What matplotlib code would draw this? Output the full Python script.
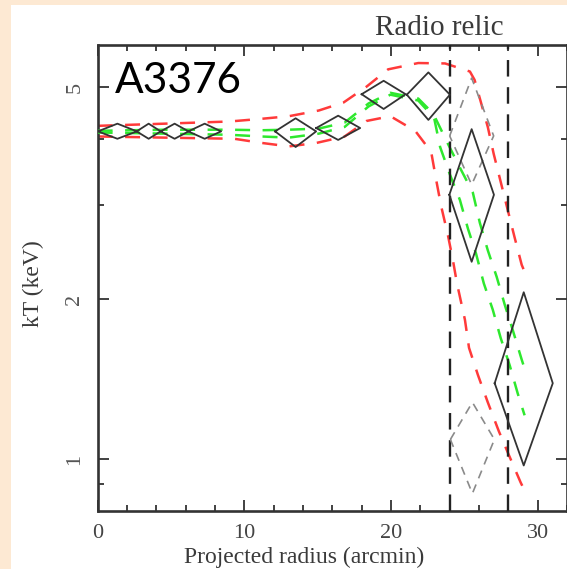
import matplotlib
matplotlib.use("Agg")
import matplotlib.pyplot as plt
from matplotlib.patches import Rectangle
from matplotlib.ticker import NullFormatter

# --- data ------------------------------------------------------------------
# black error diamonds: radius centre, radius half-width, kT centre / low / high
diam_r = [1.35, 3.48, 5.25, 7.3, 13.5, 16.4, 19.5, 22.55, 25.5, 29.05]
diam_dr = [1.33, 0.82, 0.95, 1.12, 1.4, 1.5, 1.5, 1.47, 1.52, 1.98]
diam_kt = [4.13, 4.13, 4.13, 4.13, 4.13, 4.19, 4.85, 4.84, 3.14, 1.39]
diam_lo = [4.00, 4.00, 4.00, 4.00, 3.86, 3.98, 4.55, 4.34, 2.35, 0.974]
diam_hi = [4.27, 4.27, 4.27, 4.27, 4.37, 4.42, 5.14, 5.33, 4.17, 2.06]

# grey dashed diamonds (alternative fit in the relic bin)
alt_r = [25.55, 25.5]
alt_dr = [1.5, 1.5]
alt_kt = [1.09, 4.05]
alt_lo = [0.863, 3.28]
alt_hi = [1.28, 5.2]

# red dashed envelope (upper / lower)
red_up_r = [0, 4.57, 8.98, 11.15, 13.04, 15.08, 16.77, 18.33, 19.8, 21.86, 23.69,
            25.38, 25.7, 26.06, 26.6, 27.0, 27.48, 27.96, 28.43, 28.91, 29.11]
red_up_kt = [4.23, 4.27, 4.31, 4.36, 4.41, 4.52, 4.68, 5.01, 5.40, 5.55, 5.54,
             5.35, 5.16, 4.76, 4.21, 3.75, 3.32, 2.94, 2.61, 2.32, 2.25]
red_lo_r = [0, 4.57, 9.32, 11.15, 13.04, 14.94, 16.84, 18.33, 19.96, 21.65, 22.74,
            23.08, 23.42, 23.89, 24.23, 24.5, 25.04, 25.32, 25.93, 26.6, 27.35,
            28.03, 28.84, 29.11]
red_lo_kt = [4.04, 4.02, 4.00, 3.93, 3.87, 3.93, 4.04, 4.32, 4.41, 4.14, 3.78,
             3.35, 2.99, 2.63, 2.36, 2.14, 1.83, 1.62, 1.44, 1.28, 1.13,
             1.02, 0.905, 0.874]

# green dashed envelope (upper / lower)
grn_up_r = [0, 4.57, 8.98, 11.15, 13.04, 15.08, 16.84, 18.47, 19.96, 21.86, 22.88,
            23.89, 24.7, 25.58, 26.06, 26.6, 27.21, 27.76, 28.3, 28.91, 29.11]
grn_up_kt = [4.14, 4.16, 4.16, 4.15, 4.16, 4.18, 4.29, 4.66, 4.88, 4.76, 4.46,
             3.91, 3.53, 3.17, 2.78, 2.47, 2.20, 1.95, 1.75, 1.54, 1.48]
grn_lo_r = [0, 4.57, 8.98, 11.15, 13.04, 15.08, 16.84, 18.47, 19.96, 21.86, 22.94,
            23.35, 24.03, 24.7, 25.25, 25.79, 26.33, 26.94, 27.48, 28.1, 28.64, 29.11]
grn_lo_kt = [4.11, 4.09, 4.07, 4.04, 4.02, 4.09, 4.21, 4.60, 4.84, 4.72, 4.38,
             3.86, 3.42, 3.07, 2.71, 2.44, 2.14, 1.91, 1.69, 1.50, 1.33, 1.21]

relic_edges = [24.0, 28.0]

x_major = [0, 10, 20, 30]
x_minor = [2, 4, 6, 8, 12, 14, 16, 18, 22, 24, 26, 28, 32]
y_major = [1, 2, 5]
y_labels = ["1", "2", "5"]
y_minor = [0.9, 3, 4]

SERIF = ["Liberation Serif", "DejaVu Serif"]
INK = "#333333"


def diamond(ax, r, dr, kt, lo, hi, **kw):
    xs = [r - dr, r, r + dr, r, r - dr]
    ys = [kt, hi, kt, lo, kt]
    ax.plot(xs, ys, **kw)


fig = plt.figure(figsize=(5.67, 5.69), dpi=100, facecolor="#fde9d3")
fig.add_artist(Rectangle((11 / 567, 0), 1, 564 / 569, transform=fig.transFigure,
                         facecolor="white", edgecolor="none", zorder=0))

ax = fig.add_axes([97.6 / 567, 58 / 569, 469.4 / 567, 466 / 569])
ax.set_facecolor("white")
ax.set_yscale("log")
ax.set_xlim(0, 31.8)
ax.set_ylim(0.8, 6.0)

# envelopes
dash = (0, (6, 5))
ax.plot(red_up_r, red_up_kt, color="#ff3a3a", lw=1.8, ls=dash, zorder=2)
ax.plot(red_lo_r, red_lo_kt, color="#ff3a3a", lw=1.8, ls=dash, zorder=2)
ax.plot(grn_up_r, grn_up_kt, color="#2ee82e", lw=1.8, ls=dash, zorder=3)
ax.plot(grn_lo_r, grn_lo_kt, color="#2ee82e", lw=1.8, ls=dash, zorder=3)

for x in relic_edges:
    ax.axvline(x, color="#222222", lw=1.7, ls=(0, (7, 4.5)), zorder=4)

for i in range(len(alt_r)):
    diamond(ax, alt_r[i], alt_dr[i], alt_kt[i], alt_lo[i], alt_hi[i],
            color="#8a8a8a", lw=1.2, ls=(0, (5, 4)), zorder=4)

for i in range(len(diam_r)):
    diamond(ax, diam_r[i], diam_dr[i], diam_kt[i], diam_lo[i], diam_hi[i],
            color=INK, lw=1.3, zorder=5)

# axes styling
for s in ax.spines.values():
    s.set_color(INK)
    s.set_linewidth(1.9)

ax.set_xticks(x_major)
ax.set_xticks(x_minor, minor=True)
ax.set_yticks(y_major, labels=y_labels)
ax.set_yticks(y_minor, minor=True)
ax.yaxis.set_minor_formatter(NullFormatter())

ax.tick_params(which="both", direction="in", top=True, right=True,
               color=INK, width=1.3)
ax.tick_params(which="major", length=8)
ax.tick_params(which="minor", length=4.5)
ax.tick_params(axis="x", which="major", pad=9, labelsize=16, labelcolor="#444444")
ax.tick_params(axis="y", which="major", pad=9.5, labelsize=16, labelcolor="#555555",
               labelrotation=90)
for lab in ax.get_xticklabels() + ax.get_yticklabels():
    lab.set_family(SERIF)
for lab in ax.get_yticklabels():
    lab.set_va("center")

ax.set_xlabel("Projected radius (arcmin)", family=SERIF, fontsize=17,
              color="#3a3a3a", va="center")
ax.xaxis.set_label_coords(0.44, -0.0987)
ax.set_ylabel("kT (keV)", family=SERIF, fontsize=17, color="#3a3a3a", va="center")
ax.yaxis.set_label_coords(-0.1376, 0.489)

fig.text(439 / 567, 1 - 35 / 569, "Radio relic", family=SERIF, fontsize=21,
         color="#3a3a3a", ha="center", va="baseline")
fig.text(115 / 567, 1 - 93 / 569, "A3376", family=["Lato", "DejaVu Sans"],
         fontsize=30.5, color="black", ha="left", va="baseline", zorder=10)

fig.savefig("out.png", dpi=100, facecolor=fig.get_facecolor())
